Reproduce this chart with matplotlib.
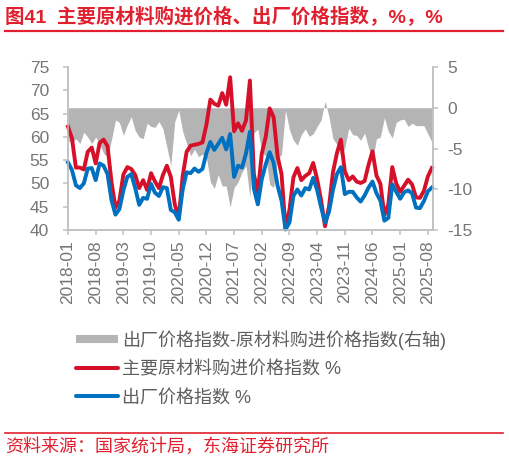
import numpy as np
import pandas as pd
import matplotlib
matplotlib.use("Agg")
import matplotlib.pyplot as plt
from matplotlib.lines import Line2D

plt.rcParams['font.family'] = ['Liberation Sans', 'Noto Sans CJK SC']
plt.rcParams['axes.unicode_minus'] = False

# 数据（按图中横轴类别排列）
months = pd.date_range('2018-01', periods=93, freq='MS').strftime('%Y-%m').tolist()

purchase = [62.2, 59.7, 53.4, 53.4, 53.0, 56.8, 57.7, 54.3, 58.7, 59.4, 58.0, 50.3,
            44.8, 46.3, 51.9, 53.5, 53.1, 51.8, 49.0, 50.7, 48.6, 52.2, 50.4, 49.0,
            51.8, 53.8, 51.4, 45.5, 42.5, 51.6, 56.8, 58.1, 58.3, 58.5, 58.8, 62.6,
            68.0, 67.1, 66.7, 69.4, 66.9, 72.8, 61.2, 62.9, 61.3, 63.5, 72.1, 52.0,
            48.1, 56.4, 60.0, 66.1, 64.2, 55.8, 52.0, 40.4, 44.3, 51.3, 53.3, 50.7,
            51.6, 52.2, 54.4, 50.9, 46.4, 40.8, 45.0, 52.4, 56.5, 59.4, 52.6, 50.7,
            51.5, 50.4, 50.1, 50.5, 54.0, 56.9, 51.7, 49.9, 43.2, 45.5, 53.5, 50.0,
            48.2, 49.5, 50.8, 49.8, 47.0, 46.9, 48.4, 51.5, 53.3]

output = [54.5, 52.9, 49.6, 49.0, 50.0, 53.2, 53.3, 50.7, 54.3, 53.8, 52.0, 46.4,
          43.3, 44.5, 48.5, 51.4, 52.0, 49.0, 45.4, 46.9, 46.7, 49.9, 48.0, 47.3,
          49.2, 49.0, 44.3, 43.8, 42.2, 48.7, 52.4, 52.2, 53.2, 52.5, 53.1, 56.5,
          58.9, 57.2, 58.5, 59.8, 57.3, 60.6, 51.4, 53.8, 53.4, 56.4, 61.1, 48.9,
          45.5, 50.9, 54.1, 56.7, 54.4, 49.5, 46.3, 40.1, 41.6, 47.3, 48.7, 47.4,
          49.0, 48.7, 51.2, 48.6, 44.9, 41.6, 43.9, 48.6, 52.0, 53.5, 47.7, 48.2,
          48.2, 47.0, 46.1, 47.4, 49.1, 50.4, 47.9, 46.3, 42.0, 42.6, 49.8, 48.2,
          46.7, 48.1, 48.5, 47.9, 44.8, 44.7, 46.2, 48.3, 49.1]

spread = [-4.0, -4.3, -3.8, -4.4, -3.0, -3.6, -4.4, -3.6, -4.4, -5.6, -6.0, -3.9,
          -1.5, -1.8, -3.4, -2.1, -1.1, -2.8, -3.6, -3.8, -1.9, -2.3, -2.4, -1.7,
          -2.6, -4.8, -7.1, -1.7, -0.3, -2.9, -4.4, -5.9, -5.1, -6.0, -5.7, -6.1,
          -9.1, -9.9, -8.2, -9.6, -9.6, -12.2, -9.8, -9.1, -7.9, -7.1, -11.0, -3.1,
          -2.6, -5.5, -5.9, -9.4, -9.8, -6.3, -5.7, -0.3, -2.7, -4.0, -4.6, -3.3,
          -2.6, -3.5, -3.2, -2.3, -1.5, 0.8, -1.1, -3.8, -4.5, -5.9, -4.9, -2.5,
          -3.3, -3.4, -4.0, -3.1, -4.9, -6.5, -3.8, -3.6, -1.2, -2.9, -3.7, -1.8,
          -1.5, -1.4, -2.3, -1.9, -2.2, -2.2, -2.2, -3.2, -4.2]

RED = '#D7102A'
BLUE = '#0070C0'
GRAY = '#B4B4B4'
TXT = '#767676'
SPINE = '#C0C0C0'

fig = plt.figure(figsize=(5.09, 4.61), dpi=100)
ax = fig.add_axes([68 / 509, 1 - 230 / 461, (433 - 68) / 509, (230 - 67) / 461])
ax2 = ax.twinx()

x = np.arange(len(months))
ax2.fill_between(x, 0, spread, color=GRAY, linewidth=0)
ax.plot(x, purchase, color=RED, lw=2.8, clip_on=False, solid_joinstyle='round')
ax.plot(x, output, color=BLUE, lw=2.8, clip_on=False, solid_joinstyle='round')

ax.set_zorder(ax2.get_zorder() + 1)
ax.patch.set_visible(False)

ax.set_xlim(0, 92.3)
ax.set_ylim(40, 75)
ax.set_yticks(range(40, 76, 5))
ax2.set_ylim(-15, 5)
ax2.set_yticks(range(-15, 6, 5))

ticks = list(range(0, 92, 7))
ax.set_xticks(ticks)
ax.set_xticklabels([months[i] for i in ticks], rotation=90)

for a in (ax, ax2):
    for s in a.spines.values():
        s.set_color(SPINE)
        s.set_linewidth(1.1)
    a.spines['top'].set_visible(False)
    a.tick_params(colors=SPINE, labelcolor=TXT, labelsize=12.5, length=3.5, width=1.1)
ax.tick_params(axis='y', pad=10)
ax.tick_params(axis='x', pad=4)
ax2.tick_params(axis='y', pad=7)

# 标题
fig.text(5 / 509, 1 - 16 / 461, '图41  主要原材料购进价格、出厂价格指数，%，%',
         color='#E0202F', fontsize=14, fontweight='bold', va='center', ha='left')
fig.add_artist(Line2D([5 / 509, 503 / 509], [1 - 31 / 461, 1 - 31 / 461],
                      color='#E0202F', lw=1.6))

# 图例
handles = [Line2D([], [], color=GRAY, lw=5.8, solid_capstyle='butt'),
           Line2D([], [], color=RED, lw=2.9, solid_capstyle='round'),
           Line2D([], [], color=BLUE, lw=2.9, solid_capstyle='round')]
labels = ['出厂价格指数-原材料购进价格指数(右轴)', '主要原材料购进价格指数 %', '出厂价格指数 %']
leg = fig.legend(handles, labels, loc='upper left', bbox_to_anchor=(76 / 509, 1 - 330 / 461),
                 frameon=False, fontsize=13, handlelength=2.3, handletextpad=0.25,
                 labelspacing=0.62, borderpad=0, borderaxespad=0)
for t in leg.get_texts():
    t.set_color('#5E5E5E')

# 来源
fig.add_artist(Line2D([5 / 509, 503 / 509], [1 - 433 / 461, 1 - 433 / 461],
                      color='#E0202F', lw=1.2))
fig.text(5 / 509, 1 - 447 / 461, '资料来源：国家统计局，东海证券研究所',
         color='#E0202F', fontsize=13, va='center', ha='left')

fig.savefig('out.png', dpi=100)
